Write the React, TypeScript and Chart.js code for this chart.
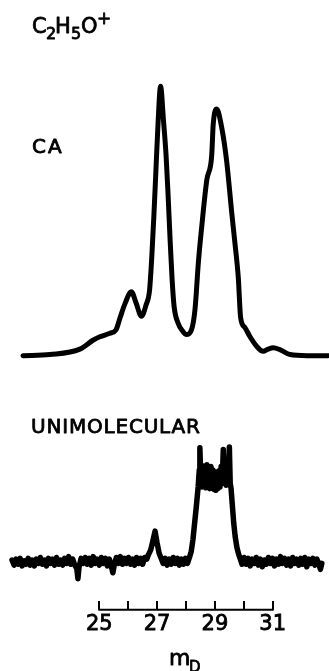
import { useEffect, useRef } from "react";
import { Chart, registerables } from "chart.js";

Chart.register(...registerables);

// Mass of the neutral lost (m_D) shown on the bottom scale
const axisTicks = [25, 26, 27, 28, 29, 30, 31];
const axisLabels = [25, 27, 29, 31];

// Collisional activation (CA) spectrum of C2H5O+
const caMass = [
  22.36, 23.29, 24.33, 24.78, 25.02, 25.37, 25.58, 25.72, 25.89, 26.11, 26.27, 26.46,
  26.62, 26.74, 26.82, 26.89, 26.96, 27.03, 27.12, 27.22, 27.31, 27.38, 27.45, 27.52,
  27.59, 27.72, 27.9, 28.0, 28.19, 28.31, 28.43, 28.54, 28.72, 28.89, 28.94, 29.06,
  29.24, 29.41, 29.58, 29.7, 29.81, 29.89, 30.04, 30.21, 30.45, 30.67, 30.84, 31.02,
  31.25, 31.6, 32.18, 32.91,
];
const caIntensity = [
  0, 0.4, 2.4, 5.7, 7.0, 8.3, 9.6, 14.1, 19.3, 23.7, 19.6, 14.6,
  18.9, 24.4, 37.4, 52.2, 68.9, 85.6, 100, 87.4, 74.4, 59.6, 43.0, 28.1,
  18.1, 12.2, 8.9, 7.8, 9.6, 17.0, 34.8, 47.4, 65.2, 74.4, 85.6, 91.5,
  84.4, 71.9, 53.3, 41.1, 28.9, 14.1, 10.4, 7.1, 3.4, 1.6, 2.4, 2.9,
  2.2, 0.4, 0, 0,
];

// Unimolecular (metastable) spectrum: [m_D, intensity]
const unimolecularTrace: [number, number][] = [
  [21.98, 2], [22.05, -4], [22.12, 3], [22.19, -3], [22.26, 4], [22.33, -5], [22.4, 1],
  [22.47, -3], [22.54, 4], [22.61, -4], [22.68, 2], [22.75, -5], [22.82, 3], [22.89, -2],
  [22.96, 5], [23.03, -3], [23.1, 2], [23.17, -5], [23.24, 4], [23.31, -2], [23.38, 3],
  [23.45, -4], [23.52, 5], [23.59, -3], [23.66, 2], [23.73, -4], [23.8, 4], [23.87, -2],
  [23.94, 6], [24.01, -3], [24.08, 3], [24.15, -4], [24.22, -8], [24.26, -20], [24.3, -6],
  [24.37, 4], [24.44, -2], [24.51, 5], [24.58, -3], [24.65, 4], [24.72, -4], [24.79, 6],
  [24.86, -2], [24.93, 3], [25.0, -4], [25.07, 5], [25.14, -2], [25.21, 4], [25.28, -5],
  [25.35, 3], [25.42, -6], [25.47, -13], [25.52, -3], [25.59, 5], [25.66, -2], [25.73, 6],
  [25.8, -3], [25.87, 4], [25.94, -2], [26.01, 5], [26.08, -3], [26.15, 3], [26.22, -4],
  [26.29, 5], [26.36, -2], [26.43, 4], [26.5, -3], [26.57, 5], [26.64, 3], [26.71, 9],
  [26.78, 14], [26.85, 24], [26.93, 36], [27.0, 22], [27.07, 10], [27.14, 4], [27.21, -2],
  [27.28, 4], [27.35, -4], [27.42, 3], [27.49, -3], [27.56, 5], [27.63, -2], [27.7, 4],
  [27.77, -4], [27.84, 3], [27.91, -3], [27.98, 4], [28.05, -2], [28.12, 5], [28.18, 12],
  [28.24, 26], [28.3, 46], [28.36, 66], [28.42, 88], [28.46, 108], [28.48, 134], [28.5, 112],
  [28.52, 92], [28.55, 88], [28.585, 113], [28.62, 90], [28.655, 111], [28.69, 87],
  [28.725, 114], [28.76, 89], [28.795, 110], [28.83, 86], [28.865, 112], [28.9, 88],
  [28.935, 108], [28.97, 85], [29.005, 106], [29.04, 84], [29.075, 104], [29.11, 86],
  [29.145, 107], [29.18, 88], [29.215, 112], [29.25, 92], [29.29, 132], [29.32, 96],
  [29.355, 114], [29.39, 90], [29.425, 116], [29.46, 94], [29.5, 135], [29.53, 92],
  [29.56, 86], [29.6, 68], [29.65, 46], [29.7, 30], [29.76, 17], [29.82, 9], [29.88, 3],
  [29.94, -3], [30.01, 5], [30.08, -3], [30.15, 4], [30.22, -5], [30.29, 3], [30.36, -2],
  [30.43, 5], [30.5, -4], [30.57, 3], [30.64, -6], [30.71, 2], [30.78, -3], [30.85, 5],
  [30.92, -2], [30.99, 4], [31.06, -5], [31.13, 3], [31.2, -3], [31.27, 6], [31.34, -2],
  [31.41, 4], [31.48, -4], [31.55, 3], [31.62, -5], [31.69, 5], [31.76, -2], [31.83, 3],
  [31.9, -4], [31.97, 4], [32.04, -3], [32.11, 5], [32.18, -6], [32.25, 3], [32.32, -2],
  [32.39, 4], [32.46, -4], [32.53, 3], [32.6, -3], [32.65, -9], [32.7, -2],
];

const FONT = '"DejaVu Sans", sans-serif';

type TextPiece = { text: string; x: number; y: number; size: number; spacing?: number };

// Formula, panel names and axis title (sub/superscripts drawn as smaller pieces)
const textPieces: TextPiece[] = [
  { text: "C", x: 32, y: 33, size: 21 },
  { text: "2", x: 46, y: 39, size: 16 },
  { text: "H", x: 55, y: 33, size: 21 },
  { text: "5", x: 71, y: 39, size: 16 },
  { text: "O", x: 81, y: 33, size: 21 },
  { text: "+", x: 97, y: 24, size: 17 },
  { text: "CA", x: 32, y: 153, size: 20, spacing: 2 },
  { text: "UNIMOLECULAR", x: 31, y: 433, size: 20, spacing: 0.8 },
  { text: "m", x: 169, y: 665, size: 22 },
  { text: "D", x: 189, y: 672, size: 15 },
];

const decorPlugin = {
  id: "decor",
  afterDraw(chart: any) {
    const ctx: CanvasRenderingContext2D = chart.ctx;
    const xs = chart.scales.x;
    const tickLen = xs.options.grid.tickLength;
    ctx.save();
    // baseline of the m_D scale, spanning first to last tick
    ctx.strokeStyle = "#000";
    ctx.lineWidth = 2;
    ctx.beginPath();
    const yLine = xs.top + tickLen;
    ctx.moveTo(xs.getPixelForValue(axisTicks[0]) - 1, yLine);
    ctx.lineTo(xs.getPixelForValue(axisTicks[axisTicks.length - 1]) + 1, yLine);
    ctx.stroke();

    ctx.fillStyle = "#000";
    ctx.strokeStyle = "#000";
    ctx.lineWidth = 0.8;
    ctx.lineJoin = "round";
    ctx.textBaseline = "alphabetic";
    ctx.textAlign = "left";
    for (const p of textPieces) {
      ctx.font = `${p.size}px ${FONT}`;
      (ctx as any).letterSpacing = `${p.spacing ?? 0}px`;
      ctx.fillText(p.text, p.x, p.y);
      ctx.strokeText(p.text, p.x, p.y);
    }
    ctx.restore();
  },
};

export default function App() {
  const canvasRef = useRef<HTMLCanvasElement | null>(null);

  useEffect(() => {
    const canvas = canvasRef.current;
    if (!canvas) return;
    const chart = new Chart(canvas, {
      type: "line",
      data: {
        datasets: [
          {
            label: "CA",
            data: caMass.map((m, i) => ({ x: m, y: caIntensity[i] })),
            yAxisID: "yCA",
            borderColor: "#000",
            borderWidth: 5,
            pointRadius: 0,
            cubicInterpolationMode: "monotone",
            borderCapStyle: "round",
            borderJoinStyle: "round",
            fill: false,
          },
          {
            label: "Unimolecular",
            data: unimolecularTrace.map(([m, v]) => ({ x: m, y: v })),
            yAxisID: "yUni",
            borderColor: "#000",
            borderWidth: 5.5,
            pointRadius: 0,
            tension: 0,
            borderCapStyle: "round",
            borderJoinStyle: "round",
            fill: false,
          },
        ],
      },
      options: {
        responsive: false,
        animation: false,
        events: [],
        layout: { padding: { top: 0, left: 0, right: 0, bottom: 32 } },
        plugins: {
          legend: { display: false },
          tooltip: { enabled: false },
          title: { display: false },
        },
        scales: {
          x: {
            type: "linear",
            position: "bottom",
            min: 21.564,
            max: 32.948,
            afterBuildTicks: (scale: any) => {
              scale.ticks = axisTicks.map((v) => ({ value: v }));
            },
            ticks: {
              autoSkip: false,
              maxRotation: 0,
              padding: 2,
              color: "#000",
              font: { family: FONT, size: 21 },
              textStrokeColor: "#000",
              textStrokeWidth: 0.8,
              callback: (v: any) => (axisLabels.includes(Number(v)) ? String(v) : ""),
            },
            grid: {
              drawOnChartArea: false,
              drawTicks: true,
              tickLength: 9,
              color: "#000",
              lineWidth: 2,
            },
            border: { display: false },
          },
          yCA: { type: "linear", display: false, min: -91, max: 132 },
          yUni: { type: "linear", display: false, min: -46, max: 661 },
        },
      } as any,
      plugins: [decorPlugin],
    });
    return () => chart.destroy();
  }, []);

  return (
    <div style={{ position: "fixed", left: 0, top: 0, width: 329, height: 671, background: "#fff" }}>
      <canvas ref={canvasRef} width={329} height={671} />
    </div>
  );
}
